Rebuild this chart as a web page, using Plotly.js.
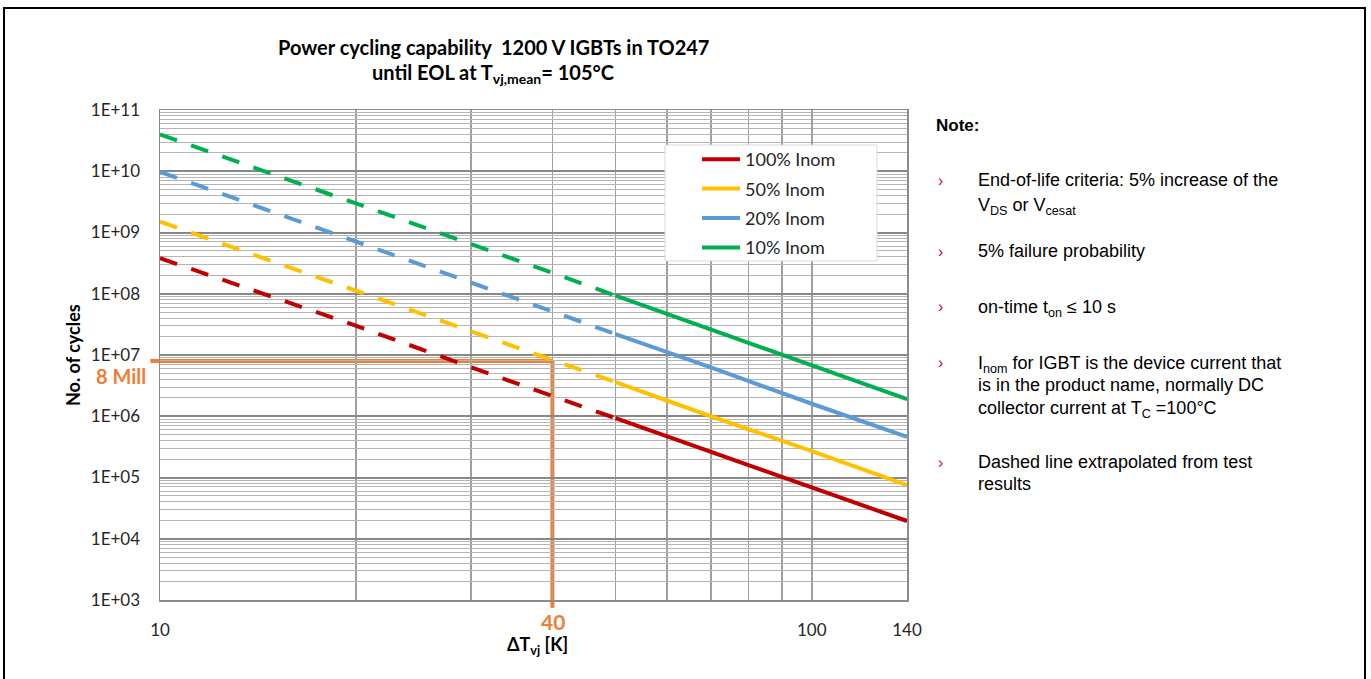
<!DOCTYPE html>
<html><head><meta charset="utf-8">
<script src="https://cdn.plot.ly/plotly-3.0.1.min.js"></script>
<style>
html,body{margin:0;padding:0;background:#fff;overflow:hidden;}
#chart{width:1371px;height:679px;}
#frame{position:absolute;left:3px;top:7px;width:1359px;height:700px;border:2px solid #000;pointer-events:none;}
</style></head><body>
<div id="chart"></div><div id="frame"></div>
<script>
// ---- data ----
const seriesNames = ['100% Inom', '50% Inom', '20% Inom', '10% Inom'];
const xDashed = [10, 20, 30, 40, 50];          // ΔTvj [K], extrapolated part
const xSolid  = [50, 70, 100, 140];            // ΔTvj [K], tested part
const red100Dashed    = [3.8e8, 3.0e7, 6.3e6, 2.1e6, 9.3e5];
const red100Solid     = [9.3e5, 2.6e5, 6.8e4, 1.95e4];
const yellow50Dashed  = [1.5e9, 1.1e8, 2.4e7, 8.3e6, 3.6e6];
const yellow50Solid   = [3.6e6, 1.0e6, 2.7e5, 7.5e4];
const blue20Dashed    = [9.8e9, 7.1e8, 1.5e8, 5.2e7, 2.2e7];
const blue20Solid     = [2.2e7, 6.3e6, 1.6e6, 4.6e5];
const green10Dashed   = [4.0e10, 3.0e9, 6.4e8, 2.2e8, 9.3e7];
const green10Solid    = [9.3e7, 2.6e7, 6.8e6, 1.9e6];
const xTickVals   = [10, 100, 140];
const xTickLabels = ['10', '100', '140'];
const yTickVals   = [1e3, 1e4, 1e5, 1e6, 1e7, 1e8, 1e9, 1e10, 1e11];
const yTickLabels = ['1E+03','1E+04','1E+05','1E+06','1E+07','1E+08','1E+09','1E+10','1E+11'];
const refDeltaT = 40;       // highlighted ΔTvj
const refCycles = 8e6;      // highlighted number of cycles
const refDeltaTLabel = '40';
const refCyclesLabel = '8 Mill';

// ---- styling ----
const colors = ['#C00000', '#FFC000', '#5B9BD5', '#00B050'];
const dashedSets = [red100Dashed, yellow50Dashed, blue20Dashed, green10Dashed];
const solidSets  = [red100Solid, yellow50Solid, blue20Solid, green10Solid];
const orange = '#F07E35';
const chartFont = 'Lato, "Open Sans", sans-serif';
const noteFont = '"Liberation Sans", Arial, sans-serif';

const traces = [];
seriesNames.forEach((name, i) => {
  traces.push({
    x: xDashed, y: dashedSets[i], type: 'scatter', mode: 'lines',
    line: {color: colors[i], width: 4, dash: '18px,15px'},
    legendgroup: 'g' + i, showlegend: false, name: name
  });
  traces.push({
    x: xSolid, y: solidSets[i], type: 'scatter', mode: 'lines',
    line: {color: colors[i], width: 4},
    legendgroup: 'g' + i, showlegend: true, name: name
  });
});

// plot-area helpers for placing free text (margins define the plot box)
const M = {l: 160, r: 464, t: 110, b: 79};
const W = 1371, H = 679;
const pw = W - M.l - M.r, ph = H - M.t - M.b;
const px = x => (x - M.l) / pw;
const py = y => (H - M.b - y) / ph;

const yMinor = [];
for (let e = 3; e < 11; e++) for (let d = 2; d <= 9; d++) yMinor.push(d * Math.pow(10, e));

const ann = [];
function text(t, x, y, opts) {
  ann.push(Object.assign({
    text: t, xref: 'paper', yref: 'paper', x: px(x), y: py(y),
    showarrow: false, xanchor: 'left', yanchor: 'middle',
    font: {family: noteFont, size: 18, color: '#000'}
  }, opts || {}));
}
// titles
text('<b>Power cycling capability&nbsp; 1200 V IGBTs in TO247</b>', 493, 47,
     {xanchor: 'center', font: {family: chartFont, size: 20, color: '#000'}});
text('<b>until EOL at T<sub>vj,mean</sub>= 105°C</b>', 493, 73,
     {xanchor: 'center', font: {family: chartFont, size: 20, color: '#000'}});
text('<b>No. of cycles</b>', 73, 355,
     {xanchor: 'center', textangle: -90, font: {family: chartFont, size: 18, color: '#000'}});
text('<b>ΔT<sub>vj</sub> [K]</b>', 537, 645,
     {xanchor: 'center', font: {family: chartFont, size: 18, color: '#000'}});
text('<b>' + refCyclesLabel + '</b>', 148, 376,
     {xanchor: 'right', font: {family: chartFont, size: 20, color: orange}});
text('<b>' + refDeltaTLabel + '</b>', 553, 621,
     {xanchor: 'center', font: {family: chartFont, size: 21, color: orange}});
// notes
const bullet = '#E4003A';
text('<b>Note:</b>', 934, 125, {font: {family: noteFont, size: 17, color: '#000'}});
[180, 251, 306, 362, 462].forEach(r =>
  text('›', 936, r, {font: {family: noteFont, size: 16, color: bullet}}));
text('End-of-life criteria: 5% increase of the', 976, 180);
text('V<sub>DS</sub> or V<sub>cesat</sub>', 976, 206);
text('5% failure probability', 976, 251);
text('on-time t<sub>on</sub> ≤ 10 s', 976, 308);
text('I<sub>nom</sub> for IGBT is the device current that', 976, 364);
text('is in the product name, normally DC', 976, 385);
text('collector current at T<sub>C</sub> =100°C', 976, 409);
text('Dashed line extrapolated from test', 976, 462);
text('results', 976, 484);

const shapes = [
  {type: 'line', xref: 'x', yref: 'y', x0: xDashed[0], x1: refDeltaT, y0: refCycles, y1: refCycles,
   line: {color: orange, width: 4}, layer: 'below'},
  {type: 'line', xref: 'paper', yref: 'y', x0: -0.013, x1: 0, y0: refCycles, y1: refCycles,
   line: {color: orange, width: 4}, layer: 'below'},
  {type: 'line', xref: 'x', yref: 'y', x0: refDeltaT, x1: refDeltaT, y0: yTickVals[0], y1: refCycles,
   line: {color: orange, width: 4}, layer: 'below'},
  {type: 'line', xref: 'x', yref: 'paper', x0: refDeltaT, x1: refDeltaT, y0: -0.016, y1: 0,
   line: {color: orange, width: 4}, layer: 'below'},
  // legend frame
  {type: 'rect', xref: 'paper', yref: 'paper', x0: px(665), x1: px(877), y0: py(261), y1: py(145),
   fillcolor: '#fff', line: {color: '#D9D9D9', width: 1}, layer: 'above'}
];

const layout = {
  width: W, height: H, autosize: false, margin: M,
  paper_bgcolor: '#fff', plot_bgcolor: '#fff',
  font: {family: chartFont, size: 17, color: '#262626'},
  showlegend: true,
  legend: {
    x: px(697), y: py(141), xanchor: 'left', yanchor: 'top',
    bgcolor: 'rgba(0,0,0,0)', borderwidth: 0, itemwidth: 38,
    font: {family: chartFont, size: 18, color: '#262626'},
    tracegroupgap: 3, traceorder: 'grouped'
  },
  xaxis: {
    type: 'log', range: [Math.log10(10), Math.log10(140)],
    tickvals: xTickVals, ticktext: xTickLabels, ticks: '',
    ticklabelstandoff: 14,
    showgrid: true, gridcolor: '#A0A0A0', gridwidth: 1.5,
    minor: {tickvals: [20, 30, 40, 50, 60, 70, 80, 90], showgrid: true, gridcolor: '#A0A0A0', gridwidth: 1.5, ticks: ''},
    showline: true, linecolor: '#8C8C8C', linewidth: 1.5, mirror: true,
    zeroline: false, fixedrange: true
  },
  yaxis: {
    type: 'log', range: [3, 11],
    tickvals: yTickVals, ticktext: yTickLabels, ticks: '',
    ticklabelstandoff: 15,
    showgrid: true, gridcolor: '#888888', gridwidth: 2,
    minor: {tickvals: yMinor, showgrid: true, gridcolor: '#B5B5B5', gridwidth: 1, ticks: ''},
    showline: true, linecolor: '#8C8C8C', linewidth: 1.5, mirror: true,
    zeroline: false, fixedrange: true
  },
  annotations: ann,
  shapes: shapes
};

Plotly.newPlot('chart', traces, layout, {displayModeBar: false, staticPlot: true});
</script>
</body></html>
